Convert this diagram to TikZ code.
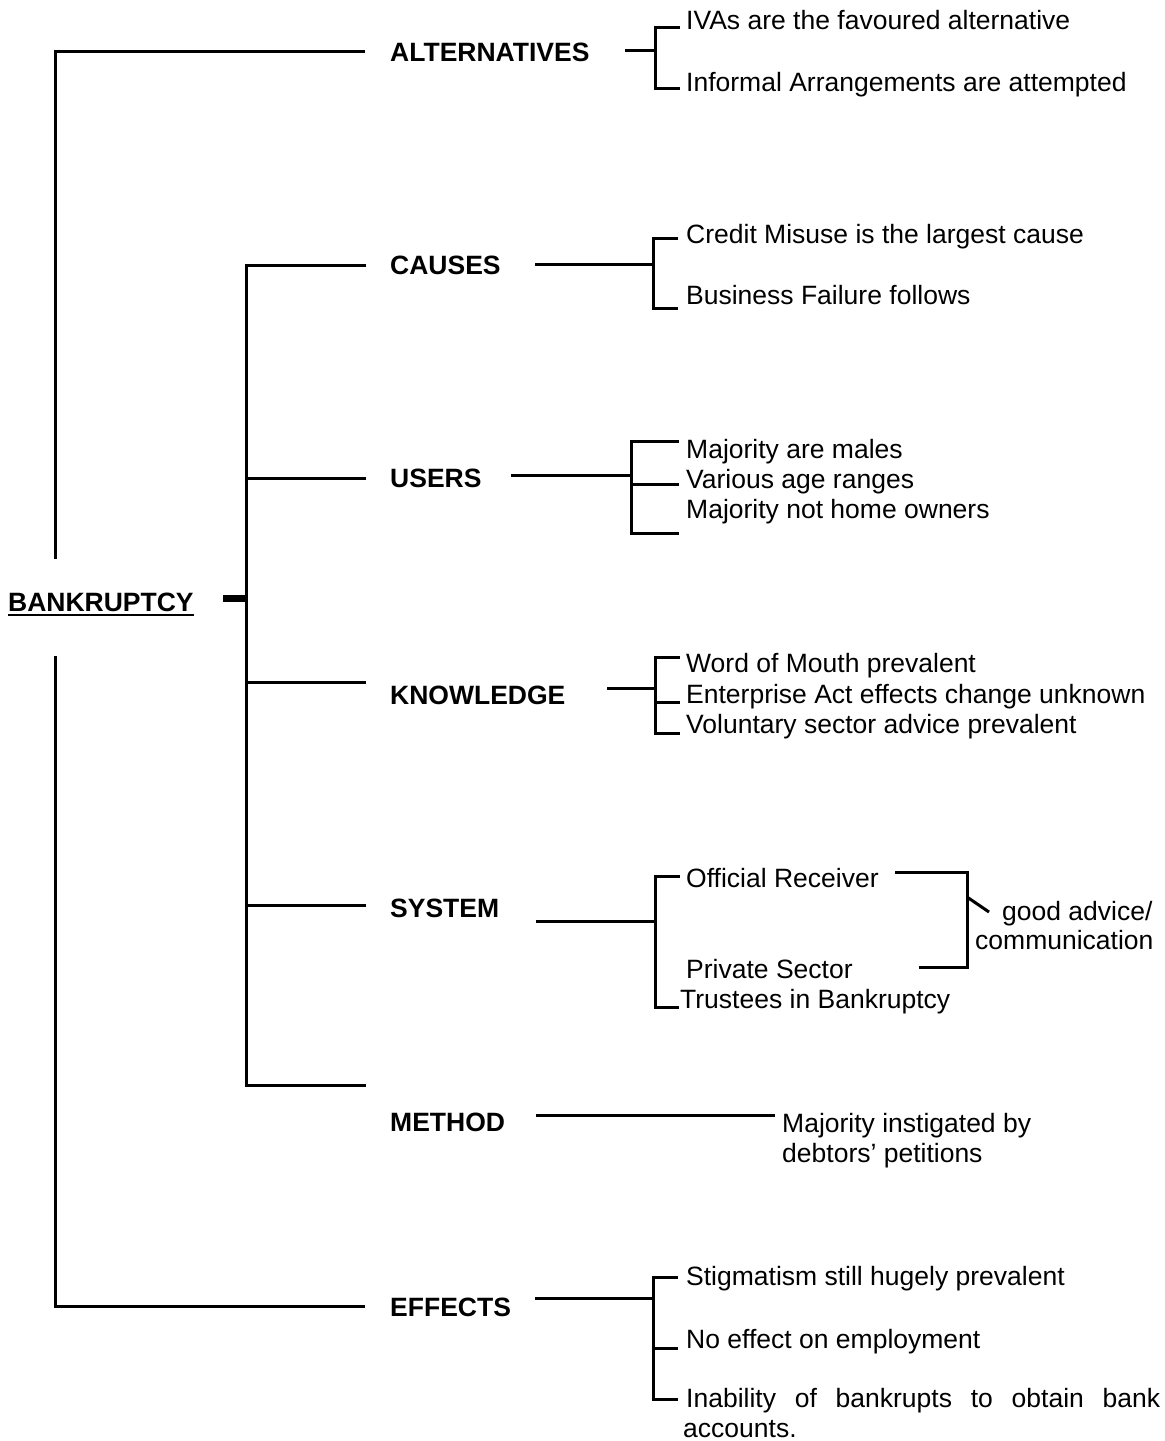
\documentclass[tikz,border=0pt]{standalone}
\usepackage{fontspec}
\setmainfont{Liberation Sans}
\tikzset{
  item/.style={anchor=base west, inner sep=0pt, font=\fontsize{26.5}{30.5}\selectfont},
  head/.style={item, font=\fontsize{26.5}{30.5}\selectfont\bfseries},
  branch/.style={line width=3pt},
  hubline/.style={line width=7pt},
  uline/.style={line width=2.5pt}
}

\begin{document}
\begin{tikzpicture}[x=1pt, y=-1pt]
  \useasboundingbox (0,0) rectangle (1165,1441);

  \node[head] (bank) at (8,611) {BANKRUPTCY};
  \draw[uline] ([yshift=-4pt]bank.base west) -- ([yshift=-4pt]bank.base east);

  \node[head] (alt) at (390,61) {ALTERNATIVES};
  \node[head] (cau) at (390,274) {CAUSES};
  \node[head] (use) at (390,487) {USERS};
  \node[head] (kno) at (390,704) {KNOWLEDGE};
  \node[head] (sys) at (390,917) {SYSTEM};
  \node[head] (met) at (390,1131) {METHOD};
  \node[head] (eff) at (390,1316) {EFFECTS};

  % trunk
  \coordinate (up) at (55,559);
  \coordinate (dn) at (55,656);
  \coordinate (hub) at (246,598);
  \draw[branch] (up) |- ([xshift=-25pt]alt.west);
  \draw[branch] (dn) |- ([xshift=-25pt]eff.west);
  \draw[hubline] ([xshift=-23pt]hub) -- (hub);
  \foreach \n/\y in {cau/265, use/478, kno/682, sys/905, met/1085}
    \coordinate (j\n) at (246,\y);
  \draw[branch] ([xshift=120pt]jcau) -- (jcau) -- (jmet) -- ([xshift=120pt]jmet);
  \foreach \n in {use, kno, sys}
    \draw[branch] (j\n) -- ([xshift=120pt]j\n);

  % alternatives
  \node[item] (alt1) at (686,29) {IVAs are the favoured alternative};
  \node[item] (alt2) at (686,91) {Informal Arrangements are attempted};
  \coordinate (altS) at (625,50);
  \coordinate (altT) at (655,27);
  \coordinate (altB) at (655,88);
  \draw[branch] (altS) -- (altS -| altT);
  \draw[branch] ([xshift=25pt]altT) -- (altT) -- (altB) -- ([xshift=25pt]altB);

  % causes
  \node[item] (cau1) at (686,243) {Credit Misuse is the largest cause};
  \node[item] (cau2) at (686,304) {Business Failure follows};
  \coordinate (cauS) at (535,264);
  \coordinate (cauT) at (653,238);
  \coordinate (cauB) at (653,308);
  \draw[branch] (cauS) -- (cauS -| cauT);
  \draw[branch] ([xshift=25pt]cauT) -- (cauT) -- (cauB) -- ([xshift=25pt]cauB);

  % users
  \node[item] (use1) at (686,458) {Majority are males};
  \node[item] (use2) at (686,488) {Various age ranges};
  \node[item] (use3) at (686,518) {Majority not home owners};
  \coordinate (useS) at (511,475);
  \coordinate (useT) at (631,441);
  \coordinate (useM) at (631,484);
  \coordinate (useB) at (631,533);
  \draw[branch] (useS) -- (useS -| useT);
  \draw[branch] ([xshift=48pt]useT) -- (useT) -- (useB) -- ([xshift=48pt]useB);
  \draw[branch] (useM) -- ([xshift=48pt]useM);

  % knowledge
  \node[item] (kno1) at (686,672) {Word of Mouth prevalent};
  \node[item] (kno2) at (686,703) {Enterprise Act effects change unknown};
  \node[item] (kno3) at (686,733) {Voluntary sector advice prevalent};
  \coordinate (knoS) at (607,688);
  \coordinate (knoT) at (655,657);
  \coordinate (knoM) at (655,702);
  \coordinate (knoB) at (655,733);
  \draw[branch] (knoS) -- (knoS -| knoT);
  \draw[branch] ([xshift=25pt]knoT) -- (knoT) -- (knoB) -- ([xshift=25pt]knoB);
  \draw[branch] (knoM) -- ([xshift=25pt]knoM);

  % system
  \node[item] (sys1) at (686,887) {Official Receiver};
  \node[item] (sys2) at (686,978) {Private Sector};
  \node[item] (sys3) at (680,1008) {Trustees in Bankruptcy};
  \node[item] (sys4) at (1002,920) {good advice/};
  \node[item] (sys5) at (975,949) {communication};
  \coordinate (sysS) at (536,921);
  \coordinate (sysT) at (655,876);
  \coordinate (sysB) at (655,1007);
  \draw[branch] (sysS) -- (sysS -| sysT);
  \draw[branch] ([xshift=25pt]sysT) -- (sysT) -- (sysB) -- ([xshift=24pt]sysB);
  \coordinate (rT) at (967,872);
  \coordinate (rB) at (967,967);
  \draw[branch] ([xshift=-72pt]rT) -- (rT) -- (rB) -- ([xshift=-48pt]rB);
  \draw[branch] ([yshift=-25pt]rT) -- ++(22,15);

  % method
  \node[item] (met1) at (782,1132) {Majority instigated by};
  \node[item] (met2) at (782,1162) {debtors' petitions};
  \coordinate (metS) at (536,1115);
  \draw[branch] (metS) -- ([xshift=-7pt]metS -| met1.west);

  % effects
  \node[item] (eff1) at (686,1285) {Stigmatism still hugely prevalent};
  \node[item] (eff2) at (686,1348) {No effect on employment};
  \node[item] (eff3) at (686,1407) {\makebox[474pt][s]{Inability of bankrupts to obtain bank}};
  \node[item] (eff4) at (683,1437) {accounts.};
  \coordinate (effS) at (535,1298);
  \coordinate (effT) at (653,1277);
  \coordinate (effM) at (653,1348);
  \coordinate (effB) at (653,1399);
  \draw[branch] (effS) -- (effS -| effT);
  \draw[branch] ([xshift=25pt]effT) -- (effT) -- (effB) -- ([xshift=25pt]effB);
  \draw[branch] (effM) -- ([xshift=25pt]effM);
\end{tikzpicture}
\end{document}
